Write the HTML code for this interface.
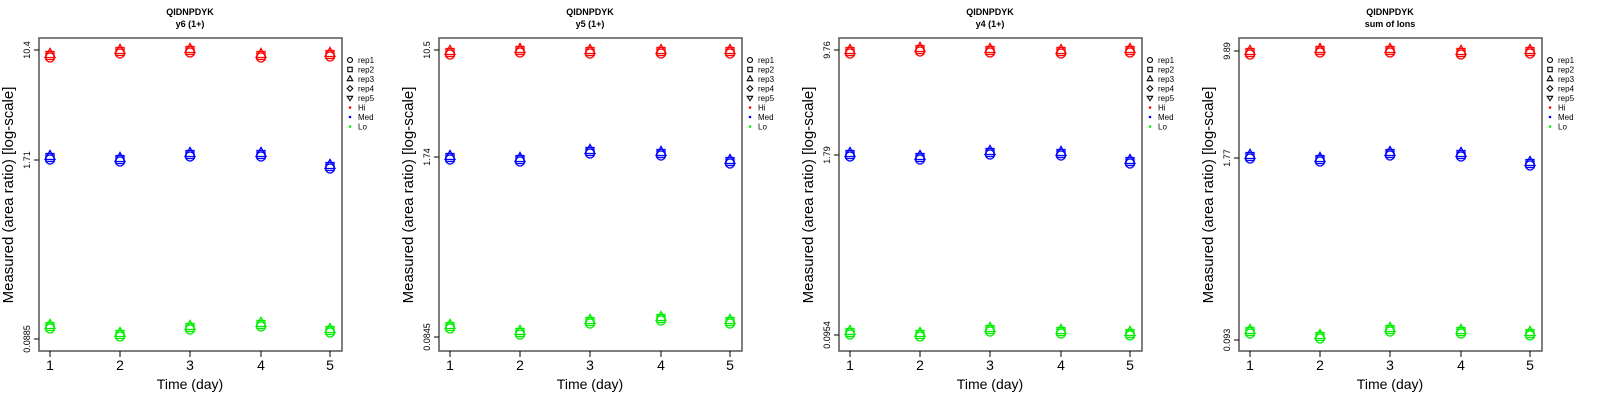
<!DOCTYPE html><html><head><meta charset="utf-8"><style>body{margin:0;background:#fff}svg{display:block}text{font-family:"Liberation Sans",sans-serif}</style></head><body>
<svg id="s" width="1600" height="400" xmlns="http://www.w3.org/2000/svg"></svg>
<script>
const P=[
{t:"y6 (1+)",ticks:[["10.4",50],["1.71",160],["0.0885",339]],hi:[56,52,51,56,55],med:[158,160,155,155,167],lo:[327,335,328,325,331]},
{t:"y5 (1+)",ticks:[["10.5",50],["1.74",157],["0.0845",337]],hi:[53,51,52,52,52],med:[158,160,152,154,162],lo:[327,333,322,319,322]},
{t:"y4 (1+)",ticks:[["9.76",50],["1.79",155],["0.0954",335]],hi:[52,50,51,52,51],med:[155,158,153,154,162],lo:[333,335,330,332,334]},
{t:"sum of Ions",ticks:[["9.89",51],["1.77",158],["0.093",340]],hi:[53,51,51,53,52],med:[157,160,154,155,164],lo:[332,337,330,332,334]}];
const cols={hi:"#ff0000",med:"#0000ff",lo:"#00ee00"};
let h="";
function mk(x,y,c,k,w){w=w||1.3;
 if(k==0)return `<circle cx="${x}" cy="${y}" r="4.5" fill="none" stroke="${c}" stroke-width="${w}"/>`;
 if(k==1)return `<rect x="${x-4}" y="${y-4}" width="8" height="8" fill="none" stroke="${c}" stroke-width="${w}"/>`;
 if(k==2)return `<polygon points="${x},${y-6} ${x+5},${y+3} ${x-5},${y+3}" fill="none" stroke="${c}" stroke-width="${w}"/>`;
 if(k==3)return `<polygon points="${x},${y-5} ${x+5},${y} ${x},${y+5} ${x-5},${y}" fill="none" stroke="${c}" stroke-width="${w}"/>`;
 return `<polygon points="${x},${y+5} ${x+5},${y-3} ${x-5},${y-3}" fill="none" stroke="${c}" stroke-width="${w}"/>`;
}
const jit=[1.5,-0.5,-1.5];
P.forEach((p,i)=>{
 const o=i*400,L=o+39,R=o+342,T=38,B=351,xs=[50,120,190,261,330].map(v=>v+o);
 h+=`<text x="${o+190}" y="15" font-size="9" font-weight="bold" text-anchor="middle">QIDNPDYK</text>`;
 h+=`<text x="${o+190}" y="27" font-size="9" font-weight="bold" text-anchor="middle">${p.t}</text>`;
 h+=`<rect x="${L}" y="${T}" width="${R-L}" height="${B-T}" fill="none" stroke="#555" stroke-width="1.5"/>`;
 xs.forEach((x,j)=>{h+=`<line x1="${x}" y1="${B}" x2="${x}" y2="${B+6}" stroke="#000"/><text x="${x}" y="370" font-size="14" text-anchor="middle">${j+1}</text>`;});
 p.ticks.forEach(([l,y])=>{h+=`<line x1="${L}" y1="${y}" x2="${L-5}" y2="${y}" stroke="#000"/><text transform="translate(${o+30},${y}) rotate(-90)" font-size="9" text-anchor="middle">${l}</text>`;});
 h+=`<text x="${o+190}" y="389" font-size="14" text-anchor="middle">Time (day)</text>`;
 h+=`<text transform="translate(${o+13},195) rotate(-90)" font-size="15" text-anchor="middle">Measured (area ratio) [log-scale]</text>`;
 ["hi","med","lo"].forEach(g=>{p[g].forEach((y,j)=>{for(let k=0;k<3;k++){h+=mk(xs[j],y+jit[k],cols[g],k);}});});
 const lx=o+350,labs=["rep1","rep2","rep3","rep4","rep5","Hi","Med","Lo"];
 labs.forEach((l,k)=>{const y=60+k*9.5;
  if(k<5){let s=mk(lx,y,"#000",k,2);s=s.replace(/\/>$/,' transform="translate('+lx+','+y+') scale(0.55) translate('+(-lx)+','+(-y)+')"/>');h+=s;}
  else h+=`<circle cx="${lx}" cy="${y}" r="1.3" fill="${["#f00","#00f","#0e0"][k-5]}"/>`;
  h+=`<text x="${lx+8}" y="${y+3}" font-size="8">${l}</text>`;});
});
document.getElementById("s").innerHTML=h;
</script></body></html>
